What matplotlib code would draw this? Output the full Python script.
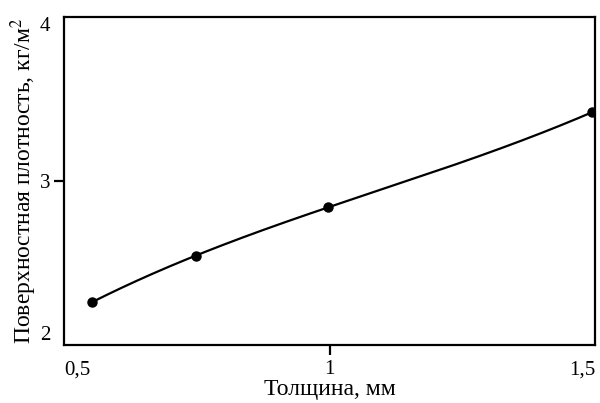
import numpy as np
import matplotlib
matplotlib.use("Agg")
import matplotlib.pyplot as plt

# толщина, мм и поверхностная плотность, кг/м2
thickness = [0.552, 0.748, 0.998, 1.495]
density = [2.26, 2.545, 2.84, 3.42]

x_ticks = [0.5, 1.0, 1.5]
x_labels = ["0,5", "1", "1,5"]
y_ticks = [2, 3, 4]
y_labels = ["2", "3", "4"]

plt.rcParams['font.family'] = ['Liberation Serif', 'DejaVu Serif']
plt.rcParams['mathtext.fontset'] = 'stix'

fig = plt.figure(figsize=(6.0, 4.03), dpi=100)
ax = fig.add_axes([0.1067, 0.1439, 0.885, 0.8139])

# гладкая кривая через точки
coef = np.polyfit(thickness, density, 3)
xs = np.linspace(thickness[0], thickness[-1], 200)
ax.plot(xs, np.polyval(coef, xs), color='black', linewidth=1.6, zorder=2)
ax.plot(thickness, density, 'o', color='black', markersize=6.5, zorder=3)

ax.set_xlim(0.5, 1.5)
ax.set_ylim(2, 4)

ax.set_xticks(x_ticks)
ax.set_xticklabels(x_labels, fontsize=15)
ax.set_yticks(y_ticks)
ax.set_yticklabels(y_labels, fontsize=15)

# крайние подписи прижаты внутрь
xt = ax.get_xticklabels()
xt[0].set_ha('left')
xt[-1].set_ha('right')
yt = ax.get_yticklabels()
yt[0].set_va('bottom')
yt[-1].set_va('top')

ax.tick_params(direction='out', length=7, width=1.6, color='black')
ax.tick_params(axis='x', pad=4)
ax.tick_params(axis='y', pad=3)

# штрихи на краях не рисуем
for axis in (ax.xaxis, ax.yaxis):
    ticks = axis.get_major_ticks()
    for t in (ticks[0], ticks[-1]):
        t.tick1line.set_visible(False)

for s in ax.spines.values():
    s.set_linewidth(1.6)
    s.set_color('black')

ax.set_xlabel("Толщина, мм", fontsize=17)
ax.xaxis.set_label_coords(0.5, -0.103)
ax.set_ylabel("Поверхностная плотность, кг/м$^2$", fontsize=17)
ax.yaxis.set_label_coords(-0.047, 0.5)

fig.savefig("out.png", dpi=100)
